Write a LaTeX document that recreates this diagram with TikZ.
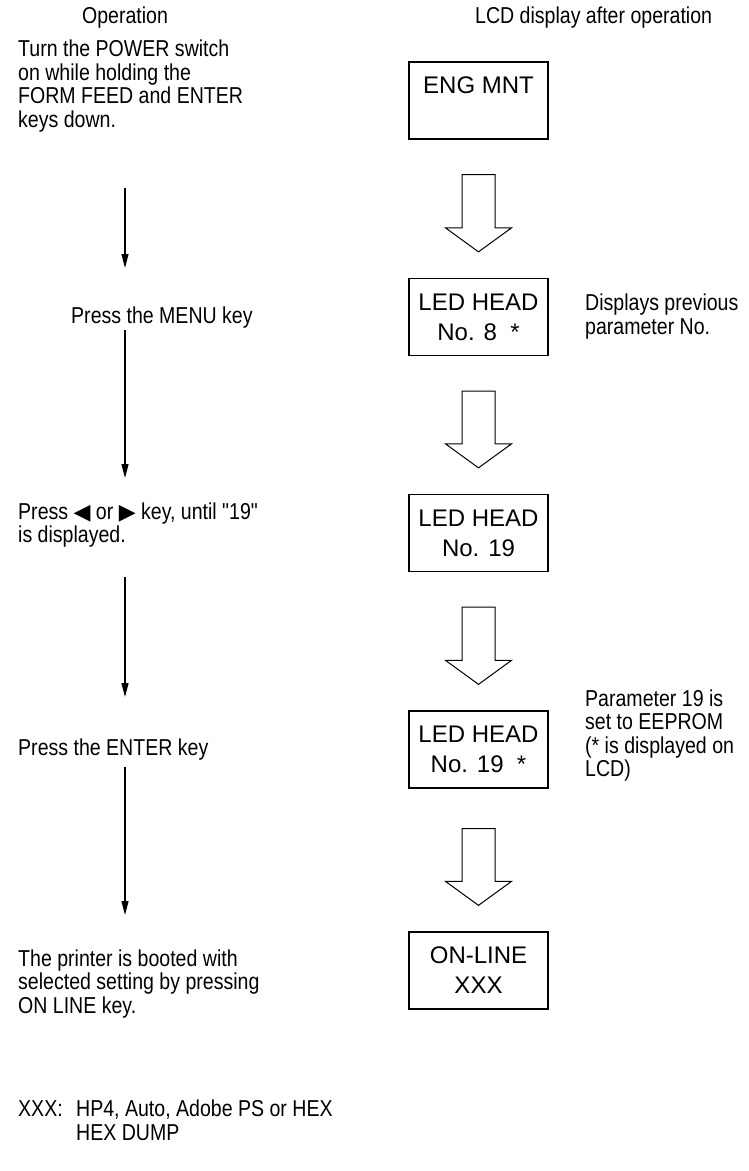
\documentclass[tikz,border=0pt]{standalone}
\usepackage{fontspec}
\setmainfont{Liberation Sans}
\newfontfamily\narrowsans{Liberation Sans}[FakeStretch=0.85]
\newfontfamily\symsans{DejaVu Sans}
\usetikzlibrary{arrows.meta,calc}

\begin{document}
\begin{tikzpicture}[
  x=1pt,
  y=-1pt,
  line join=miter,
  optext/.style={font=\narrowsans\fontsize{23}{23.5}\selectfont,align=left,inner sep=0pt},
  lcdbox/.style={draw=black,line width=1.3pt,minimum width=139pt,minimum height=77pt,inner sep=0pt,align=center,
    font=\fontsize{24}{30}\selectfont,execute at begin node={\rule{0pt}{23pt}}},
  flow/.style={draw=black,line width=1.2pt,-{Triangle[length=14pt,width=7pt]}},
  hollow/.style={draw=black,line width=1pt,fill=white}
]
  \newcommand{\hollowarrow}[3]{%
    \draw[hollow] ($(#1.south)+(-16.5,#3)$) -- ($(#1.south)+(16.5,#3)$)
      -- ($(#2.north)+(16.5,-50)$) -- ($(#2.north)+(33,-50)$)
      -- ($(#2.north)+(0,-26)$) -- ($(#2.north)+(-33,-50)$)
      -- ($(#2.north)+(-16.5,-50)$) -- cycle;
  }
  \newcommand{\keytri}[1]{{\symsans\fontsize{22}{22}\selectfont #1}}
  \useasboundingbox (0,0) rectangle (749,1171);

  % Column headings
  \node[optext] (hdop) at (125,18) {Operation};
  \node[optext,anchor=west] (hdlcd) at (475,18) {LCD display after operation};

  % Operation steps
  \node[optext,anchor=west] (op1) at (18,86) {Turn the POWER switch\\on while holding the\\FORM FEED and ENTER\\keys down.};
  \node[optext,anchor=west] (op2) at (71,318) {Press the MENU key};
  \node[optext,anchor=west] (op3) at (18,525) {Press \keytri{◀} or \keytri{▶} key, until "19"\\is displayed.};
  \node[optext,anchor=west] (op4) at (18,750) {Press the ENTER key};
  \node[optext,anchor=west] (op5) at (18,984) {The printer is booted with\\selected setting by pressing\\ON LINE key.};

  \coordinate (a1s) at (125,188);
  \coordinate (a1e) at (125,268);
  \coordinate (a2s) at (125,330);
  \coordinate (a2e) at (125,478);
  \coordinate (a3s) at (125,577);
  \coordinate (a3e) at (125,697);
  \coordinate (a4s) at (125,767);
  \coordinate (a4e) at (125,915);
  \draw[flow] (a1s) -- (a1e);
  \draw[flow] (a2s) -- (a2e);
  \draw[flow] (a3s) -- (a3e);
  \draw[flow] (a4s) -- (a4e);

  % LCD displays
  \node[lcdbox] (lcd1) at (478.5,100.5) {ENG MNT\\\mbox{}};
  \node[lcdbox] (lcd2) at (478.5,317) {LED HEAD\\No. 8\ \ *};
  \node[lcdbox] (lcd3) at (478.5,533) {LED HEAD\\No. 19};
  \node[lcdbox] (lcd4) at (478.5,749.5) {LED HEAD\\No. 19\ \ *};
  \node[lcdbox] (lcd5) at (478.5,970.5) {ON-LINE\\XXX};

  \hollowarrow{lcd1}{lcd2}{35}
  \hollowarrow{lcd2}{lcd3}{35}
  \hollowarrow{lcd3}{lcd4}{35}
  \hollowarrow{lcd4}{lcd5}{40}

  % Remarks
  \node[optext,anchor=west] (rm2) at (585,316.5) {Displays previous\\parameter No.};
  \node[optext,anchor=west] (rm4) at (585,735.5) {Parameter 19 is\\set to EEPROM\\(* is displayed on\\LCD)};

  \node[optext,anchor=north west] (xxxkey) at (18,1100) {XXX:};
  \node[optext,anchor=north west] (xxxlist) at (76,1100) {HP4, Auto, Adobe PS or HEX\\HEX DUMP};
\end{tikzpicture}
\end{document}
